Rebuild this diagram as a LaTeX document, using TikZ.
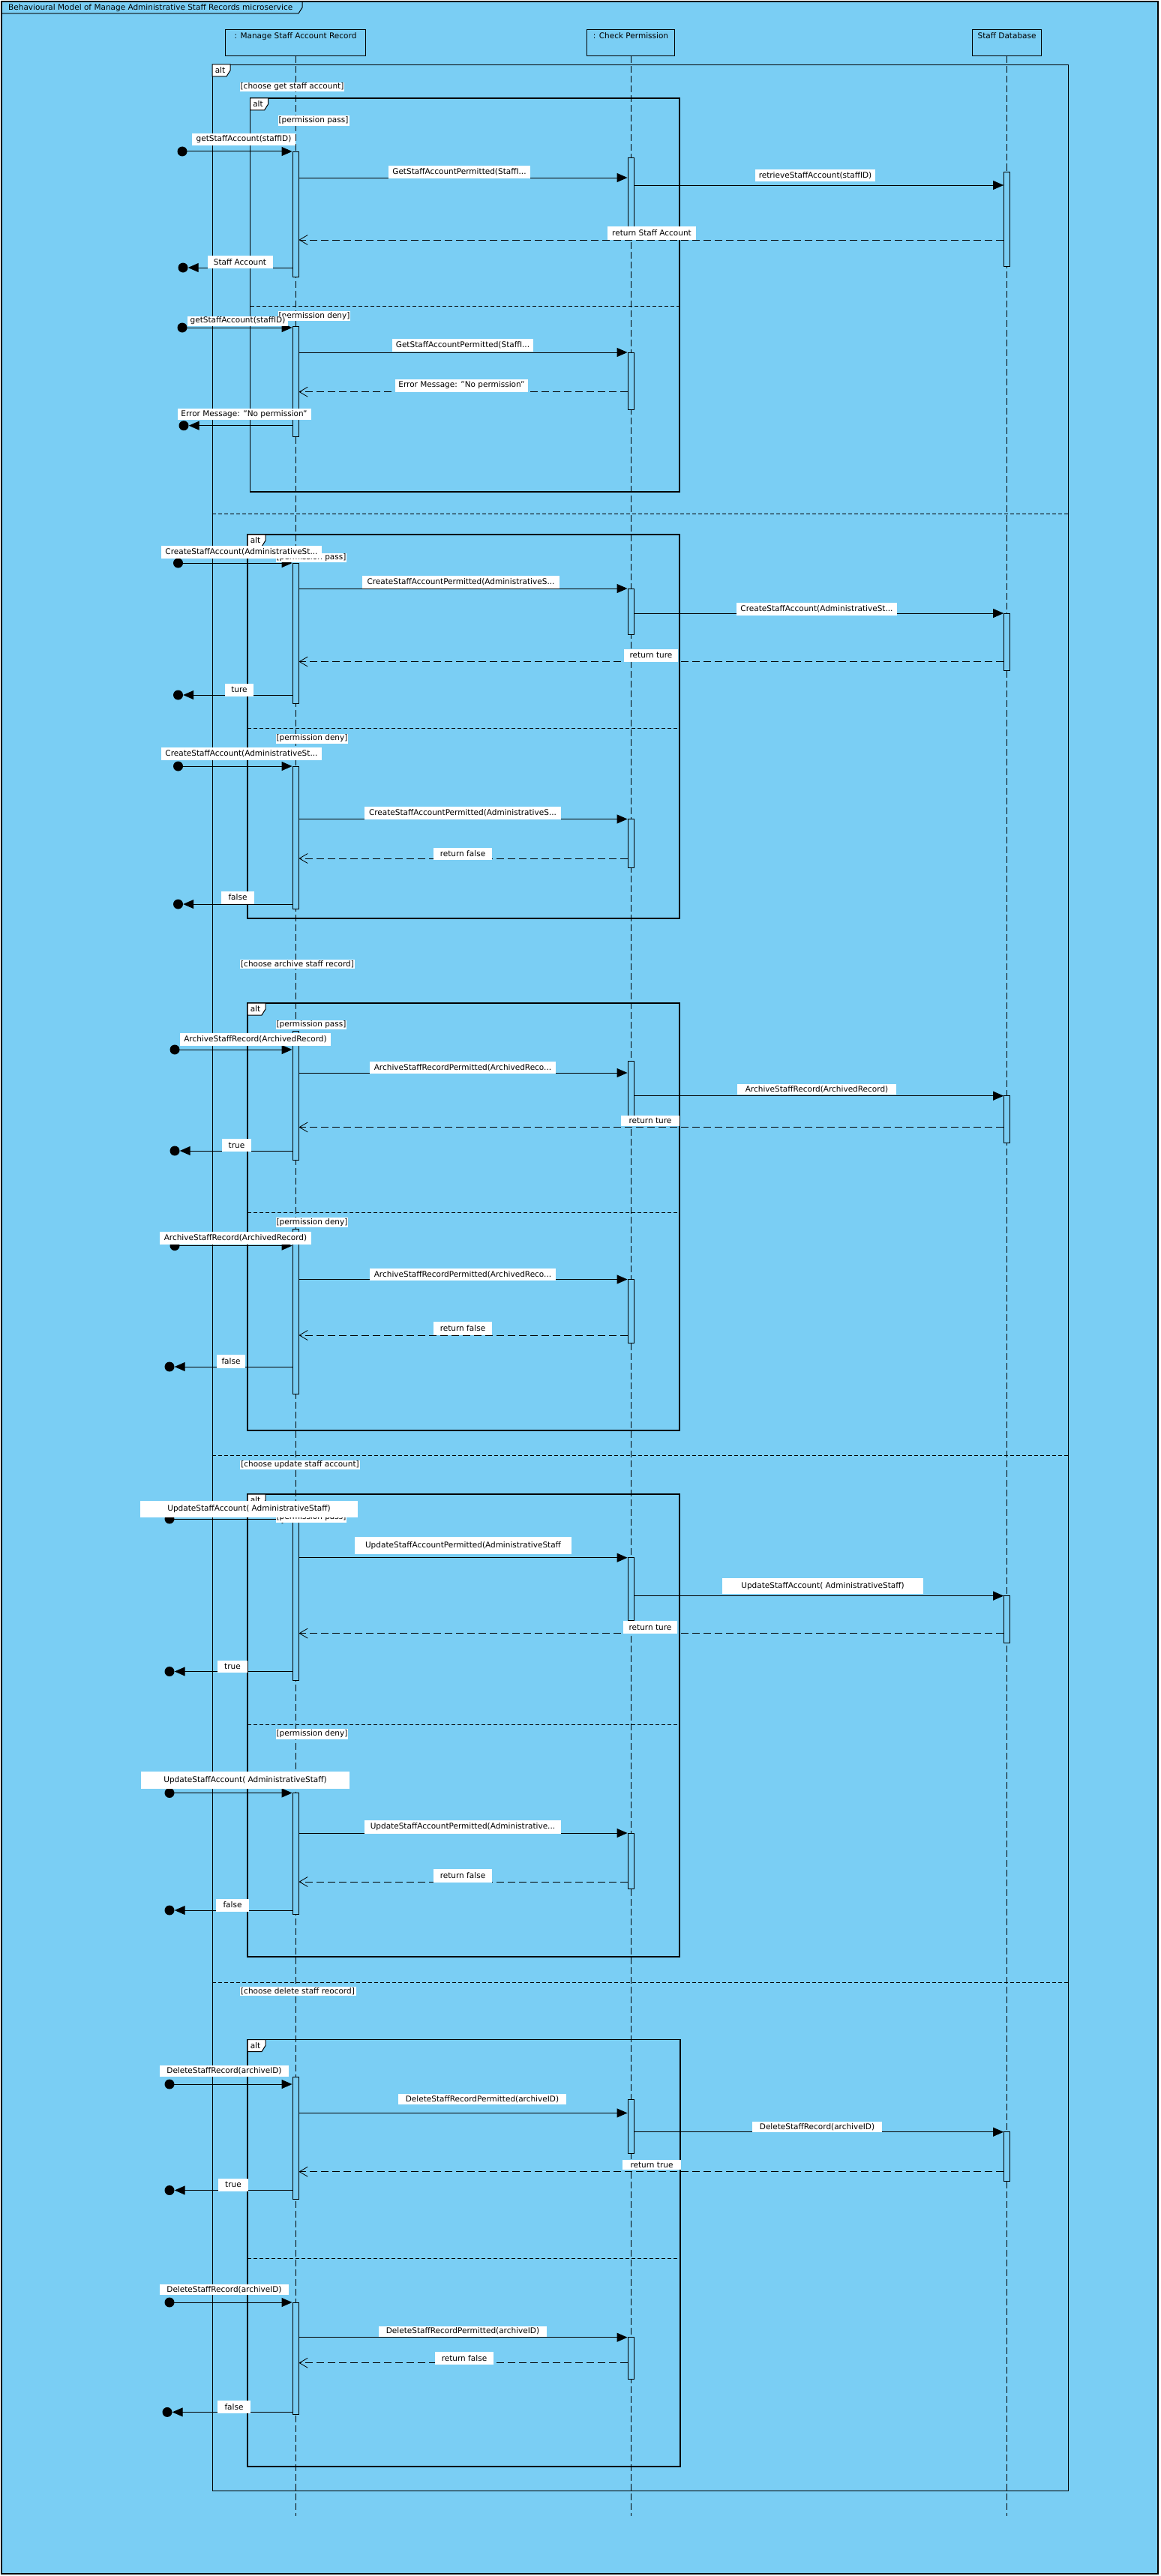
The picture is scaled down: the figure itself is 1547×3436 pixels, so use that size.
\documentclass[tikz,border=0pt]{standalone}
\usepackage{fontspec}
\setmainfont{DejaVu Sans}
\usetikzlibrary{arrows.meta}
\definecolor{diagbg}{RGB}{122,206,244}

% activation bar on a lifeline, from one height to another
\newcommand\actbar[4]{%
  \pgfmathsetmacro\barlen{(#4)-(#3)}%
  \pgfmathsetmacro\barmid{((#4)+(#3))/2}%
  \node[actv, minimum height=\barlen pt] (#1) at (#2,\barmid) {};}
% synchronous call from one bar to another
\newcommand\callmsg[3]{\draw[call] (#1.east |- 0,#3) -- (#2.west |- 0,#3);}
% reply back to the caller
\newcommand\retmsg[3]{\draw[ret] (#1.west |- 0,#3) -- (#2.east |- 0,#3);}
% found message: from a filled dot into a bar
\newcommand\foundmsg[4]{\node[dot] (#1) at (#2,#3) {};
  \draw[call] (#1.center) -- (#1.center -| #4.west);}
% lost message: from a bar out to a filled dot
\newcommand\lostmsg[4]{\node[dot] (#1) at (#2,#3) {};
  \draw[call] (#4.west |- #1.center) -- (#1.east);}
% white label box
\newcommand\msglbl[6]{\node[lbl, minimum width=#4pt, minimum height=#5pt] (#1) at (#2,#3) {#6};}
% "alt" operator tab
\newcommand\alttab[3]{%
  \draw[tab] (#2,#3) -- ++(24,0) -- ++(0,8) -- ++(-5,8) -- ++(-19,0) -- cycle;
  \node (#1) at ({#2+10.5},{#3+8}) {alt};}

\begin{document}
\begin{tikzpicture}[x=1pt,y=-1pt,
  every node/.style={font=\fontsize{10.5}{12}\selectfont, inner sep=0pt},
  call/.style={line width=1pt, -{Triangle[length=14pt,width=12pt]}},
  ret/.style={line width=0.9pt, dash pattern=on 10pt off 5pt, -{Straight Barb[length=11pt,width=13pt,line width=0.8pt]}},
  life/.style={line width=0.9pt, dash pattern=on 9pt off 4pt},
  sep/.style={line width=0.9pt, dash pattern=on 5pt off 3pt},
  actv/.style={draw, fill=diagbg, line width=0.9pt, minimum width=8pt, inner sep=0pt},
  dot/.style={circle, fill=black, minimum size=13pt, inner sep=0pt},
  lbl/.style={fill=white, inner sep=0pt},
  head/.style={draw, fill=diagbg, line width=1pt, inner sep=0pt, minimum height=35pt},
  ofrm/.style={line width=0.9pt},
  ifrm/.style={line width=1.3pt},
  tab/.style={draw, fill=white, line width=1pt}]

\useasboundingbox (0,0) rectangle (1547,3436);
\fill[white] (0,0) rectangle (1547,3436);

% diagram frame and its title tab
\draw[fill=diagbg, line width=1.3pt] (2,2) rectangle (1544,3433);
\draw[line width=1pt] (2,18) -- (398,18) -- (403,10) -- (403,2);
\node[anchor=west] (title) at (11,10.5) {Behavioural Model of Manage Administrative Staff Records microservice};

% outer combined fragment
\draw[ofrm] (283,86) rectangle (1424,3322);
\alttab{altA}{283}{86}
\draw[sep] (283,685) -- (1424,685);
\draw[sep] (283,1941) -- (1424,1941);
\draw[sep] (283,2644) -- (1424,2644);

% inner permission fragments
\draw[ifrm] (333.5,131) rectangle (906,656); \alttab{altB}{333.5}{131}
\draw[sep] (333.5,408) -- (906,408);
\draw[ifrm] (330,713) rectangle (906,1225); \alttab{altC}{330}{713}
\draw[sep] (330,971) -- (906,971);
\draw[ifrm] (330,1338) rectangle (906,1908); \alttab{altD}{330}{1338}
\draw[sep] (330,1617.5) -- (906,1617.5);
\draw[ifrm] (330,1993) rectangle (906,2610); \alttab{altE}{330}{1993}
\draw[sep] (330,2300.5) -- (906,2300.5);
\draw[ifrm] (330,2720.5) rectangle (907,3290); \alttab{altF}{330}{2720.5}
\draw[sep] (330,3012) -- (907,3012);

% lifeline heads
\node[head, minimum width=187pt] (h1) at (394,57.5) {};
\node[anchor=north] (h1t) at (394,43) {: Manage Staff Account Record};
\node[head, minimum width=116.5pt] (h2) at (841,57.5) {};
\node[anchor=north] (h2t) at (841,43) {: Check Permission};
\node[head, minimum width=92.4pt] (h3) at (1342.6,57.5) {};
\node[anchor=north] (h3t) at (1342.6,43) {Staff Database};
\coordinate (e1) at (394,3356);
\coordinate (e2) at (841,3356);
\coordinate (e3) at (1342.6,3356);
\draw[life] (h1.south) -- (e1);
\draw[life] (h2.south) -- (e2);
\draw[life] (h3.south) -- (e3);

% activation bars
\actbar{b1}{394}{202}{369}
\actbar{b2}{841}{210}{305}
\actbar{b3}{1342.6}{229}{355}
\actbar{b4}{394}{435}{582}
\actbar{b5}{841}{470}{546}
\actbar{b6}{394}{751}{938}
\actbar{b7}{841}{785}{846}
\actbar{b8}{1342.6}{818}{894}
\actbar{b9}{394}{1022}{1212}
\actbar{b10}{841}{1092.5}{1157}
\actbar{b11}{394}{1375}{1547}
\actbar{b12}{841}{1415.5}{1490}
\actbar{b13}{1342.6}{1461.7}{1524}
\actbar{b14}{394}{1639}{1859}
\actbar{b15}{841}{1706.5}{1791.4}
\actbar{b16}{394}{2026}{2241.5}
\actbar{b17}{841}{2077.7}{2161.6}
\actbar{b18}{1342.6}{2128.6}{2191.5}
\actbar{b19}{394}{2391.5}{2553}
\actbar{b20}{841}{2445}{2519.6}
\actbar{b21}{394}{2770}{2933}
\actbar{b22}{841}{2800}{2872}
\actbar{b23}{1342.6}{2843.7}{2909}
\actbar{b24}{394}{3071}{3220}
\actbar{b25}{841}{3117.7}{3173.8}

% get staff account: permission pass / deny
\foundmsg{f1}{243}{202}{b1}
\callmsg{b1}{b2}{237}
\callmsg{b2}{b3}{247}
\retmsg{b3}{b1}{320}
\lostmsg{d1}{244}{357}{b1}
\foundmsg{f2}{243}{437}{b4}
\callmsg{b4}{b5}{470}
\retmsg{b5}{b4}{522.7}
\lostmsg{d2}{245}{567.7}{b4}

% create staff account
\foundmsg{f3}{237.5}{751}{b6}
\callmsg{b6}{b7}{785}
\callmsg{b7}{b8}{818}
\retmsg{b8}{b6}{882.5}
\lostmsg{d3}{237.5}{927}{b6}
\foundmsg{f4}{237.5}{1022}{b9}
\callmsg{b9}{b10}{1092.5}
\retmsg{b10}{b9}{1145}
\lostmsg{d4}{237.5}{1206}{b9}

% archive staff record
\foundmsg{f5}{233}{1400}{b11}
\callmsg{b11}{b12}{1431}
\callmsg{b12}{b13}{1461.7}
\retmsg{b13}{b11}{1503.5}
\lostmsg{d5}{233}{1535}{b11}
\foundmsg{f6}{233}{1661.6}{b14}
\callmsg{b14}{b15}{1706.5}
\retmsg{b15}{b14}{1781}
\lostmsg{d6}{226}{1823}{b14}

% update staff account
\foundmsg{f7}{226}{2026}{b16}
\callmsg{b16}{b17}{2077.7}
\callmsg{b17}{b18}{2128.6}
\retmsg{b18}{b16}{2178.6}
\lostmsg{d7}{226}{2229.5}{b16}
\foundmsg{f8}{226}{2391.5}{b19}
\callmsg{b19}{b20}{2445}
\retmsg{b20}{b19}{2510}
\lostmsg{d8}{226}{2548}{b19}

% delete staff record
\foundmsg{f9}{226}{2780}{b21}
\callmsg{b21}{b22}{2818.4}
\callmsg{b22}{b23}{2843.7}
\retmsg{b23}{b21}{2896.7}
\lostmsg{d9}{226}{2921.5}{b21}
\foundmsg{f10}{226}{3071}{b24}
\callmsg{b24}{b25}{3117.7}
\retmsg{b25}{b24}{3151.7}
\lostmsg{d10}{223}{3217.4}{b24}

% guards
\msglbl{g1}{389.5}{116}{139}{12.5}{[choose get staff account]}
\msglbl{g2}{418}{161}{95}{14}{[permission pass]}
\msglbl{g3}{419}{421.5}{96}{13}{[permission deny]}
\msglbl{g4}{415}{744}{94}{12.5}{[permission pass]}
\msglbl{g5}{416}{985}{96}{13}{[permission deny]}
\msglbl{g6}{396.5}{1286}{153}{12.5}{[choose archive staff record]}
\msglbl{g7}{415}{1367}{94}{12.5}{[permission pass]}
\msglbl{g8}{416}{1630.5}{96}{13}{[permission deny]}
\msglbl{g9}{400}{1954}{160}{12.5}{[choose update staff account]}
\msglbl{g10}{415}{2024}{94}{13}{[permission pass]}
\msglbl{g11}{416}{2313}{96}{14}{[permission deny]}
\msglbl{g12}{397}{2656}{155}{12.5}{[choose delete staff reocord]}

% message labels
\msglbl{t1}{325}{186}{138}{16}{getStaffAccount(staffID)}
\msglbl{t2}{612.5}{229}{189}{17}{GetStaffAccountPermitted(StaffI...}
\msglbl{t3}{1087}{234}{160}{16}{retrieveStaffAccount(staffID)}
\msglbl{t4}{869}{311}{118}{18}{return Staff Account}
\msglbl{t5}{320}{349.5}{87}{17}{Staff Account}
\msglbl{t6}{317}{428}{134.5}{13}{getStaffAccount(staffID)}
\msglbl{t7}{617}{460}{188}{17}{GetStaffAccountPermitted(StaffI...}
\msglbl{t8}{615.5}{514}{177}{17}{Error Message: "No permission"}
\msglbl{t9}{325.5}{552.5}{178}{15}{Error Message: "No permission"}
\msglbl{t10}{322}{736}{214}{17}{CreateStaffAccount(AdministrativeSt...}
\msglbl{t11}{614.5}{776}{263}{17}{CreateStaffAccountPermitted(AdministrativeS...}
\msglbl{t12}{1089}{812}{214}{17}{CreateStaffAccount(AdministrativeSt...}
\msglbl{t13}{868}{874}{72}{17}{return ture}
\msglbl{t14}{319}{920}{38}{17}{ture}
\msglbl{t15}{322}{1005}{214}{17}{CreateStaffAccount(AdministrativeSt...}
\msglbl{t16}{617}{1084}{262}{17}{CreateStaffAccountPermitted(AdministrativeS...}
\msglbl{t17}{617}{1139}{78}{16}{return false}
\msglbl{t18}{317}{1197}{44}{17}{false}
\msglbl{t19}{340.5}{1386}{201}{17}{ArchiveStaffRecord(ArchivedRecord)}
\msglbl{t20}{617}{1424}{247.5}{16}{ArchiveStaffRecordPermitted(ArchivedReco...}
\msglbl{t21}{1089}{1453}{212}{14}{ArchiveStaffRecord(ArchivedRecord)}
\msglbl{t22}{867}{1495}{78}{14}{return ture}
\msglbl{t23}{315.5}{1527.5}{39}{17}{true}
\msglbl{t24}{314}{1651.5}{201.5}{17}{ArchiveStaffRecord(ArchivedRecord)}
\msglbl{t25}{617}{1700}{248.5}{16.5}{ArchiveStaffRecordPermitted(ArchivedReco...}
\msglbl{t26}{617}{1772}{78}{18}{return false}
\msglbl{t27}{308}{1816}{38}{18}{false}
\msglbl{t28}{332}{2013}{290}{22.5}{UpdateStaffAccount( AdministrativeStaff)}
\msglbl{t29}{617.5}{2061.6}{289}{22.4}{UpdateStaffAccountPermitted(AdministrativeStaff}
\msglbl{t30}{1097}{2115.5}{268}{21}{UpdateStaffAccount( AdministrativeStaff)}
\msglbl{t31}{867}{2170.7}{72.4}{16.5}{return ture}
\msglbl{t32}{310}{2223}{40}{16.7}{true}
\msglbl{t33}{327}{2374.4}{277.6}{22.7}{UpdateStaffAccount( AdministrativeStaff)}
\msglbl{t34}{617}{2437}{262}{17.4}{UpdateStaffAccountPermitted(Administrative...}
\msglbl{t35}{617}{2502}{78}{17.7}{return false}
\msglbl{t36}{310}{2541}{43.6}{17}{false}
\msglbl{t37}{299}{2762.5}{172}{15}{DeleteStaffRecord(archiveID)}
\msglbl{t38}{643}{2800}{223.5}{14}{DeleteStaffRecordPermitted(archiveID)}
\msglbl{t39}{1089.5}{2837}{173}{13.7}{DeleteStaffRecord(archiveID)}
\msglbl{t40}{869}{2887.6}{78}{13}{return true}
\msglbl{t41}{311}{2914}{39.5}{17}{true}
\msglbl{t42}{299}{3053.8}{172}{14.5}{DeleteStaffRecord(archiveID)}
\msglbl{t43}{617}{3109.6}{224}{14}{DeleteStaffRecordPermitted(archiveID)}
\msglbl{t44}{619}{3145.5}{77.5}{17}{return false}
\msglbl{t45}{312}{3210.5}{43.5}{17}{false}

\end{tikzpicture}
\end{document}
